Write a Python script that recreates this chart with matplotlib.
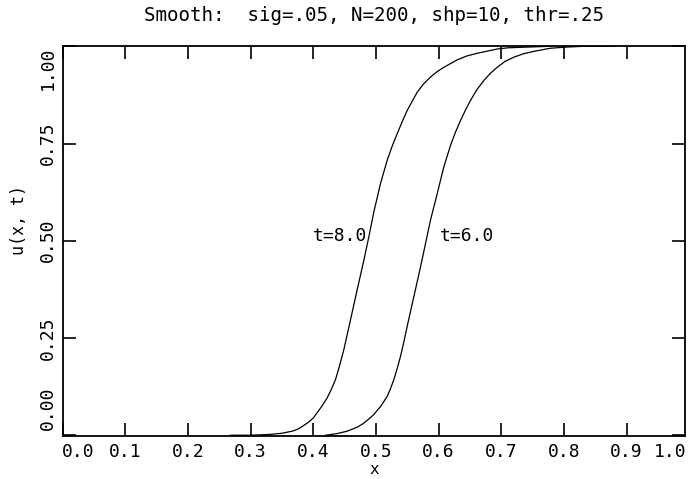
import matplotlib
matplotlib.use("Agg")
import matplotlib.pyplot as plt

# ---------------- data ----------------
x_t8 = [0.268, 0.300, 0.330, 0.350, 0.368, 0.376, 0.384, 0.392, 0.400, 0.4064,
        0.414, 0.4223, 0.429, 0.4356, 0.442, 0.4489, 0.4596, 0.4702, 0.4809,
        0.4888, 0.4968, 0.5074, 0.5181, 0.526, 0.5340, 0.542, 0.5500, 0.5660,
        0.576, 0.5872, 0.598, 0.6085, 0.6298, 0.645, 0.6617, 0.6936, 0.710,
        0.7255, 0.7787]
u_t8 = [0.000, 0.000, 0.002, 0.005, 0.011, 0.016, 0.024, 0.033, 0.044, 0.058,
        0.075, 0.096, 0.118, 0.143, 0.178, 0.220, 0.297, 0.374, 0.450,
        0.510, 0.574, 0.647, 0.707, 0.743, 0.775, 0.806, 0.835, 0.882,
        0.903, 0.921, 0.935, 0.946, 0.965, 0.975, 0.982, 0.993, 0.996,
        0.997, 1.000]

x_t6 = [0.420, 0.4375, 0.4535, 0.4694, 0.478, 0.4854, 0.4960, 0.5081, 0.5181,
        0.5235, 0.5287, 0.534, 0.5394, 0.5447, 0.5500, 0.5606, 0.5713, 0.5793,
        0.5872, 0.5979, 0.6085, 0.6191, 0.627, 0.6351, 0.643, 0.6511, 0.661,
        0.6723, 0.683, 0.6936, 0.706, 0.7202, 0.736, 0.7521, 0.7787, 0.8053,
        0.8319, 0.8800]
u_t6 = [0.000, 0.004, 0.010, 0.020, 0.028, 0.037, 0.052, 0.075, 0.100,
        0.120, 0.143, 0.171, 0.203, 0.240, 0.280, 0.356, 0.433, 0.493,
        0.553, 0.621, 0.690, 0.745, 0.779, 0.809, 0.836, 0.861, 0.888,
        0.912, 0.931, 0.946, 0.961, 0.972, 0.981, 0.987, 0.995, 0.998,
        1.000, 1.000]

x_ticks = [0.0, 0.1, 0.2, 0.3, 0.4, 0.5, 0.6, 0.7, 0.8, 0.9, 1.0]
x_tick_labels = ["0.0", "0.1", "0.2", "0.3", "0.4", "0.5", "0.6", "0.7", "0.8", "0.9", "1.0"]
y_ticks = [0.0, 0.25, 0.50, 0.75, 1.00]
y_tick_labels = ["0.00", "0.25", "0.50", "0.75", "1.00"]

curve_labels = ["t=8.0", "t=6.0"]
title_text = "Smooth:  sig=.05, N=200, shp=10, thr=.25"
x_label = "x"
y_label = "u(x, t)"

# ---------------- figure ----------------
plt.rcParams["font.family"] = ["DejaVu Sans Mono", "DejaVu Sans"]
W, H = 688, 479
fig = plt.figure(figsize=(W / 100, H / 100), dpi=100)
ax_left, ax_right, ax_top, ax_bottom = 62.5, 685.0, 45.5, 436.0
ax = fig.add_axes([ax_left / W, 1 - ax_bottom / H,
                   (ax_right - ax_left) / W, (ax_bottom - ax_top) / H])

ax.plot(x_t8, u_t8, color="black", lw=0.9)
ax.plot(x_t6, u_t6, color="black", lw=0.9)

ax.set_xlim(0.0, 0.9933)
ax.set_ylim(-0.002, 1.002)

for s in ax.spines.values():
    s.set_linewidth(1.3)
    s.set_color("black")

TFS = 13
ax.tick_params(axis="both", direction="in", length=9.4, width=1.2,
               top=True, right=True, labelsize=TFS, colors="black")
ax.tick_params(axis="x", pad=4.7)
ax.tick_params(axis="y", pad=4.0, labelrotation=90)

# inner tick labels from the library; end labels nudged inward like the reference
ax.set_xticks(x_ticks[:-1], labels=[""] + x_tick_labels[1:-1])
ax.set_yticks(y_ticks, labels=[""] + y_tick_labels[1:-1] + [""])
plt.setp(ax.get_yticklabels(), va="center", ha="right")

ax.annotate(x_tick_labels[0], xy=(x_ticks[0], 0), xycoords=("data", "axes fraction"),
            xytext=(11.2, -4.7), textcoords="offset points", ha="center", va="top",
            fontsize=TFS, annotation_clip=False)
ax.annotate(x_tick_labels[-1], xy=(x_ticks[-1], 0), xycoords=("data", "axes fraction"),
            xytext=(-14.0, -4.7), textcoords="offset points", ha="center", va="top",
            fontsize=TFS, annotation_clip=False)
ax.annotate(y_tick_labels[-1], xy=(0, y_ticks[-1]), xycoords=("axes fraction", "data"),
            xytext=(-4.0, -15.8), textcoords="offset points", ha="right", va="center",
            rotation=90, fontsize=TFS, annotation_clip=False)
ax.annotate(y_tick_labels[0], xy=(0, y_ticks[0]), xycoords=("axes fraction", "data"),
            xytext=(-4.0, 19.6), textcoords="offset points", ha="right", va="center",
            rotation=90, fontsize=TFS, annotation_clip=False)

# curve labels
ax.text(0.486, 0.512, curve_labels[0], ha="right", va="center", fontsize=TFS)
ax.text(0.602, 0.512, curve_labels[1], ha="left", va="center", fontsize=TFS)

ax.set_title(title_text, fontsize=13.8, pad=17.5)
ax.set_xlabel(x_label, fontsize=11.5, va="center")
ax.xaxis.set_label_coords(0.5, -(470 - ax_bottom) / (ax_bottom - ax_top))
ax.set_ylabel(y_label, fontsize=12, va="center", ha="center")
ax.yaxis.set_label_coords((19 - ax_left) / (ax_right - ax_left),
                          (ax_bottom - 220) / (ax_bottom - ax_top))

fig.savefig("out.png", dpi=100)
